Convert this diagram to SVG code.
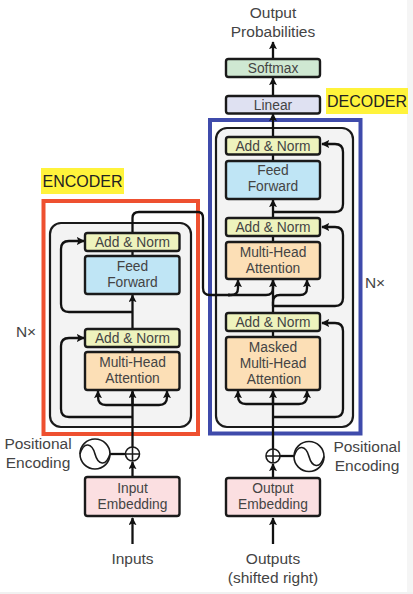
<svg xmlns="http://www.w3.org/2000/svg" width="413" height="594" viewBox="0 0 413 594">
<style>
text{font-family:"Liberation Sans",Arial,sans-serif;font-size:13.8px;fill:#444;text-anchor:middle}
.lab{font-size:15.500px}
.hl{font-size:16px;fill:#222}
.box{stroke:#1a1a1a;stroke-width:2.400}
.an{fill:#eef3bd}.ff{fill:#bfe5f5}.mh{fill:#fcdfb6}.em{fill:#fbdfe1}
.pan{fill:#f3f3f3;stroke:#1a1a1a;stroke-width:2.200}
.w{fill:none;stroke:#111;stroke-width:2.300}
.a{fill:none;stroke:#111;stroke-width:2.300;marker-end:url(#ah)}
.sym{fill:#fff;stroke:#1a1a1a;stroke-width:1.600}
.sq{fill:none;stroke:#1a1a1a;stroke-width:1.600}
</style>
<defs>
<marker id="ah" viewBox="0 0 10 10" refX="9" refY="5" markerWidth="8" markerHeight="8" markerUnits="userSpaceOnUse" orient="auto"><path d="M0 0L10 5L0 10L2 5Z" fill="#111"/></marker>
</defs>
<rect width="413" height="594" fill="#fff"/>
<rect x="407" width="6" height="594" fill="#f5f5f5"/>
<rect y="592" width="413" height="2" fill="#f1f1f1"/>

<g id="encoder-stack"><rect class="pan" x="50" y="223" width="141" height="204" rx="11"/></g>
<g id="decoder-stack"><rect class="pan" x="216" y="128" width="137" height="299" rx="11"/></g>
<g id="encoder-frame"><rect x="43.500" y="201" width="154.500" height="233" fill="none" stroke="#ee5030" stroke-width="4"/></g>
<g id="decoder-frame"><rect x="210" y="120" width="150.500" height="313.500" fill="none" stroke="#3f4bab" stroke-width="4"/></g>

<g id="connectors">
<path class="a" d="M132.500 544V518"/>
<path class="a" d="M132.500 477V462"/>
<path class="w" d="M132.500 447V392"/>
<path class="a" d="M132.500 405V391"/>
<path class="a" d="M132.500 405H106Q98 405 98 397V391"/>
<path class="a" d="M132.500 405H159Q167 405 167 397V391"/>
<path class="w" d="M132.500 352V347"/>
<path class="a" d="M132.500 329V295"/>
<path class="a" d="M132.500 417H69Q61 417 61 409V346Q61 338 69 338H84"/>
<path class="a" d="M132.500 312H69Q61 312 61 304V249Q61 241 69 241H84"/>
<path class="w" d="M132.500 256V251"/>
<path class="w" d="M132.500 233V218Q132.500 212 139 212H198Q203 212 203 218V288Q203 295 210 295H230"/>
<path class="a" d="M228 295H231Q238 295 238 288V280"/>
<path class="a" d="M228 295H266Q273 295 273 288V280"/>
<path class="a" d="M273 306V302Q273 295 280 295H300Q307 295 307 288V280"/>
<path class="a" d="M273 544V518"/>
<path class="a" d="M273 478V464"/>
<path class="w" d="M273 449V392"/>
<path class="a" d="M273 404V391"/>
<path class="a" d="M273 404H246Q238 404 238 396V391"/>
<path class="a" d="M273 404H299Q307 404 307 396V391"/>
<path class="w" d="M273 337V331"/>
<path class="w" d="M273 313V279"/>
<path class="w" d="M273 242V236"/>
<path class="a" d="M273 218V200"/>
<path class="w" d="M273 161V154"/>
<path class="a" d="M273 137V114"/>
<path class="a" d="M273 96V78"/>
<path class="a" d="M273 59V42"/>
<path class="a" d="M273 417H335Q343 417 343 409V331Q343 323 335 323H322"/>
<path class="a" d="M273 306H335Q343 306 343 298V235Q343 227 335 227H322"/>
<path class="a" d="M273 212H335Q343 212 343 204V152Q343 144 335 144H322"/>
<path class="w" d="M110 454H125"/>
<path class="w" d="M280 456H294"/>
</g>

<g id="encoder-label"><rect x="41" y="168" width="83" height="26" fill="#fff33b"/><text class="hl" x="82.500" y="187">ENCODER</text></g>
<g id="decoder-label"><rect x="326" y="88" width="82" height="26" fill="#fff33b"/><text class="hl" x="367" y="107">DECODER</text></g>

<g id="enc-addnorm-2"><rect class="box an" x="85" y="233" width="94.500" height="18" rx="2.500"/><text x="132.500" y="247">Add &amp; Norm</text></g>
<g id="enc-ff"><rect class="box ff" x="85" y="256" width="94.500" height="38" rx="2.500"/><text x="132.500" y="271">Feed</text><text x="132.500" y="287">Forward</text></g>
<g id="enc-addnorm-1"><rect class="box an" x="85" y="329" width="94.500" height="18" rx="2.500"/><text x="132.500" y="343">Add &amp; Norm</text></g>
<g id="enc-mha"><rect class="box mh" x="85" y="352" width="94.500" height="38" rx="2.500"/><text x="132.500" y="367">Multi-Head</text><text x="132.500" y="383">Attention</text></g>
<g id="input-embedding"><rect class="box em" x="85" y="477" width="94.500" height="39" rx="2.500"/><text x="132.500" y="493">Input</text><text x="132.500" y="509">Embedding</text></g>

<g id="softmax"><rect class="box" fill="#cfe8d2" x="226" y="59" width="94" height="18" rx="2.500"/><text x="273" y="73">Softmax</text></g>
<g id="linear"><rect class="box" fill="#dfe1f2" x="226" y="96" width="94" height="17.500" rx="2.500"/><text x="273" y="110">Linear</text></g>
<g id="dec-addnorm-3"><rect class="box an" x="226" y="137" width="94" height="17.500" rx="2.500"/><text x="273" y="151">Add &amp; Norm</text></g>
<g id="dec-ff"><rect class="box ff" x="226" y="161" width="94" height="38" rx="2.500"/><text x="273" y="175">Feed</text><text x="273" y="191">Forward</text></g>
<g id="dec-addnorm-2"><rect class="box an" x="226" y="218" width="94" height="18" rx="2.500"/><text x="273" y="232">Add &amp; Norm</text></g>
<g id="dec-mha"><rect class="box mh" x="226" y="242" width="94" height="37" rx="2.500"/><text x="273" y="257">Multi-Head</text><text x="273" y="273">Attention</text></g>
<g id="dec-addnorm-1"><rect class="box an" x="226" y="313" width="94" height="18" rx="2.500"/><text x="273" y="327">Add &amp; Norm</text></g>
<g id="dec-masked"><rect class="box mh" x="226" y="337" width="94" height="53" rx="2.500"/><text x="273" y="352">Masked</text><text x="273" y="368">Multi-Head</text><text x="274" y="384">Attention</text></g>
<g id="output-embedding"><rect class="box em" x="226" y="478" width="94" height="38" rx="2.500"/><text x="273" y="493">Output</text><text x="273" y="509">Embedding</text></g>

<g id="enc-add"><circle class="sym" cx="132.500" cy="454" r="7"/><path class="sq" d="M125.500 454H139.500M132.500 447V461"/></g>
<g id="enc-pos"><circle class="sym" cx="95" cy="454" r="15"/><path class="sq" d="M80 454C84 441 92 443 95 454S106 467 110 454"/></g>
<g id="dec-add"><circle class="sym" cx="273" cy="456" r="7"/><path class="sq" d="M266 456H280M273 449V463"/></g>
<g id="dec-pos"><circle class="sym" cx="309" cy="456.500" r="15"/><path class="sq" d="M294 456.500C298 443.500 306 445.500 309 456.500S320 469.500 324 456.500"/></g>

<g id="labels">
<text class="lab" x="273" y="18">Output</text>
<text class="lab" x="273" y="37">Probabilities</text>
<text class="lab" x="26" y="337">N×</text>
<text class="lab" x="375" y="288">N×</text>
<text class="lab" x="38" y="449">Positional</text>
<text class="lab" x="38" y="468">Encoding</text>
<text class="lab" x="367" y="452">Positional</text>
<text class="lab" x="367" y="471">Encoding</text>
<text class="lab" x="132.500" y="564">Inputs</text>
<text class="lab" x="273" y="564">Outputs</text>
<text class="lab" x="273" y="583">(shifted right)</text>
</g>
</svg>
